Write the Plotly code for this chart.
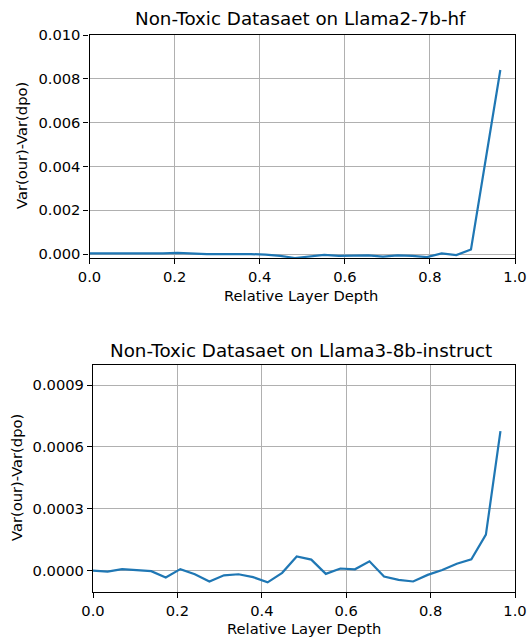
import plotly.graph_objects as go

W, H = 527, 637

n_layers = 29
depth = [i / n_layers for i in range(n_layers)]

llama2_diff = [0.00003, 0.00003, 0.00002, 0.0, 0.00002, 0.00003, 0.00005, 0.00001,
               0.0, 0.0, 0.00001, 0.0, -0.00003, -0.00008, -0.00018, -0.0001,
               -0.00004, -0.00008, -0.00008, -0.00006, -0.00012, -0.00006, -0.00008,
               -0.00014, 0.00003, -0.00005, 0.00021, 0.0043, 0.0084]

llama3_diff = [0.0, -0.000005, 0.000007, 0.000002, -0.000003, -0.000034, 0.000007,
               -0.000018, -0.000053, -0.000023, -0.000018, -0.000032, -0.000057,
               -0.000011, 0.000068, 0.000053, -0.000016, 0.00001, 0.000006, 0.000045,
               -0.000029, -0.000045, -0.000053, -0.000021, 0.000003, 0.000033,
               0.000055, 0.000174, 0.000676]

titles = ["Non-Toxic Datasaet on Llama2-7b-hf", "Non-Toxic Datasaet on Llama3-8b-instruct"]
xlabel = "Relative Layer Depth"
ylabel = "Var(our)-Var(dpo)"
x_ticks = [0.0, 0.2, 0.4, 0.6, 0.8, 1.0]
y1_ticks = [0.0, 0.002, 0.004, 0.006, 0.008, 0.010]
y2_ticks = [0.0, 0.0003, 0.0006, 0.0009]

FONT = "DejaVu Sans"
TICK = 14.7
TITLE = 18.3
BLUE = "#1f77b4"

def px_x(p):
    return p / W

def px_y(p):
    return 1 - p / H

fig = go.Figure()
fig.add_trace(go.Scatter(x=depth, y=llama2_diff, mode="lines",
                         line=dict(color=BLUE, width=2.2), xaxis="x", yaxis="y",
                         showlegend=False))
fig.add_trace(go.Scatter(x=depth, y=llama3_diff, mode="lines",
                         line=dict(color=BLUE, width=2.2), xaxis="x2", yaxis="y2",
                         showlegend=False))

axis_common = dict(
    showline=True, mirror=True, linecolor="black", linewidth=1.2,
    ticks="outside", ticklen=5, tickwidth=1.2, tickcolor="black",
    showgrid=True, gridcolor="#b0b0b0", gridwidth=1.2,
    zeroline=False, automargin=False,
    tickfont=dict(family=FONT, size=TICK, color="black"),
)

t_l, t_r, t_t, t_b = 89.5, 515, 35, 258
b_l, b_r, b_t, b_b = 93, 515, 365, 592

fig.update_layout(
    width=W, height=H, autosize=False,
    margin=dict(l=0, r=0, t=0, b=0, pad=0, autoexpand=False),
    paper_bgcolor="white", plot_bgcolor="white",
    font=dict(family=FONT, color="black"),
    xaxis=dict(domain=[px_x(t_l), px_x(t_r)], range=[0, 1], tickvals=x_ticks,
               tickformat=".1f", anchor="y", **axis_common),
    yaxis=dict(domain=[px_y(t_b), px_y(t_t)], range=[-0.00018, 0.010], tickvals=y1_ticks,
               tickformat=".3f", anchor="x", **axis_common),
    xaxis2=dict(domain=[px_x(b_l), px_x(b_r)], range=[0, 1], tickvals=x_ticks,
                tickformat=".1f", anchor="y2", **axis_common),
    yaxis2=dict(domain=[px_y(b_b), px_y(b_t)], range=[-0.000104, 0.000997], tickvals=y2_ticks,
                tickformat=".4f", anchor="x2", **axis_common),
)

annots = [
    dict(text=titles[0], x=px_x(300), y=px_y(19), size=TITLE, angle=0),
    dict(text=titles[1], x=px_x(301), y=px_y(350), size=TITLE, angle=0),
    dict(text=xlabel, x=px_x(301), y=px_y(296), size=TICK, angle=0),
    dict(text=xlabel, x=px_x(304), y=px_y(628), size=TICK, angle=0),
    dict(text=ylabel, x=px_x(22), y=px_y(146), size=TICK, angle=-90),
    dict(text=ylabel, x=px_x(16), y=px_y(478), size=TICK, angle=-90),
]
for a in annots:
    fig.add_annotation(text=a["text"], x=a["x"], y=a["y"], xref="paper", yref="paper",
                       xanchor="center", yanchor="middle", showarrow=False,
                       textangle=a["angle"],
                       font=dict(family=FONT, size=a["size"], color="black"))

fig.write_html("out.html")
